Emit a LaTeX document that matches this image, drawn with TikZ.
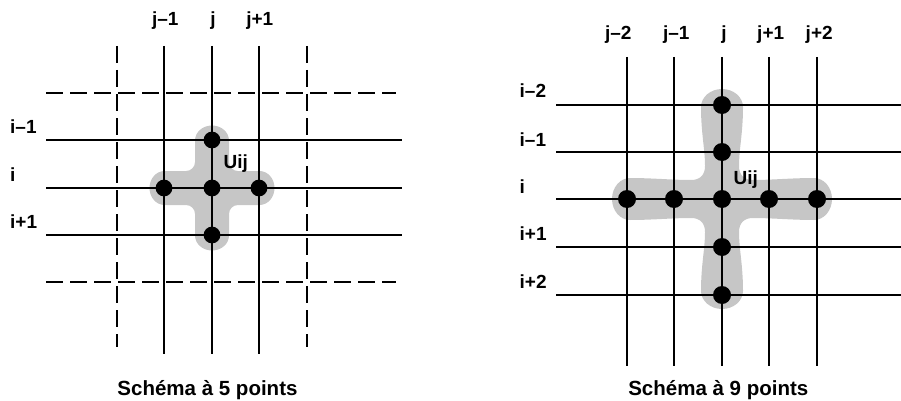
\documentclass[tikz,border=0pt]{standalone}
\usepackage{fontspec}
\setmainfont{Liberation Sans}
\definecolor{blob}{RGB}{198,198,198}
\begin{document}
\begin{tikzpicture}[x=1pt,y=-1pt,
  gridline/.style={line width=1.6pt,black},
  dashline/.style={line width=1.6pt,black,dash pattern=on 17pt off 7pt},
  dot/.style={circle,fill=black,inner sep=0pt,minimum size=16.8pt},
  bigdot/.style={circle,fill=black,inner sep=0pt,minimum size=18pt},
  lbl/.style={inner sep=0pt,anchor=base,font=\fontsize{19}{22}\selectfont\bfseries},
  rowlbl/.style={inner sep=0pt,anchor=base west,font=\fontsize{19}{22}\selectfont\bfseries},
  caption/.style={inner sep=0pt,anchor=base,font=\fontsize{20.5}{24}\selectfont\bfseries}]
\useasboundingbox (0,0) rectangle (901,401);

% ---------- left: 5-point scheme ----------
\begin{scope}[shift={(212,188)}]
\fill[blob] (-17,-47.5) .. controls (-17,-55.8) and (-9.4,-62.5) .. (0,-62.5)
  .. controls (9.4,-62.5) and (17,-55.8) .. (17,-47.5) -- (17,-26)
  .. controls (17,-21) and (21,-17) .. (26,-17) -- (47.5,-17)
  .. controls (55.8,-17) and (62.5,-9.4) .. (62.5,0)
  .. controls (62.5,9.4) and (55.8,17) .. (47.5,17) -- (26,17)
  .. controls (21,17) and (17,21) .. (17,26) -- (17,47.5)
  .. controls (17,55.8) and (9.4,62.5) .. (0,62.5)
  .. controls (-9.4,62.5) and (-17,55.8) .. (-17,47.5) -- (-17,26)
  .. controls (-17,21) and (-21,17) .. (-26,17) -- (-47.5,17)
  .. controls (-55.8,17) and (-62.5,9.4) .. (-62.5,0)
  .. controls (-62.5,-9.4) and (-55.8,-17) .. (-47.5,-17) -- (-26,-17)
  .. controls (-21,-17) and (-17,-21) .. (-17,-26) -- cycle;
\end{scope}

\foreach \x in {164,212,259} \draw[gridline] (\x,46) -- (\x,354);
\foreach \x in {117,307} \draw[dashline] (\x,46) -- (\x,347);
\foreach \y in {140,188,235} \draw[gridline] (46,\y) -- (402,\y);
\foreach \y in {93,282} \draw[dashline] (46,\y) -- (396,\y);

\node[dot] (L-n) at (212,140) {};
\node[dot] (L-w) at (164,188) {};
\node[dot] (L-c) at (212,188) {};
\node[dot] (L-e) at (259,188) {};
\node[dot] (L-s) at (212,235) {};

\node[lbl] (L-jm1) at (165.3,25.7) {j–1};
\node[lbl] (L-j) at (213,25.7) {j};
\node[lbl] (L-jp1) at (259.8,25.7) {j+1};
\node[rowlbl] (L-im1) at (10,133.3) {i–1};
\node[rowlbl] (L-i) at (10,181.3) {i};
\node[rowlbl] (L-ip1) at (10,228.3) {i+1};
\node[rowlbl] (L-u) at (223.5,168.3) {Uij};
\node[caption] (L-cap) at (207.5,395) {Schéma à 5 points};

% ---------- right: 9-point scheme ----------
\begin{scope}[shift={(722,199)}]
\fill[blob] (21,-92) .. controls (21,-66) and (17,-50) .. (17,-33)
  .. controls (17,-24) and (22,-19) .. (31,-19)
  .. controls (50,-19) and (70,-21) .. (92,-21)
  .. controls (101.9,-21) and (110,-11.6) .. (110,0)
  .. controls (110,11.6) and (101.9,21) .. (92,21)
  .. controls (70,21) and (50,19) .. (31,19)
  .. controls (22,19) and (17,24) .. (17,33)
  .. controls (17,50) and (21,66) .. (21,92)
  .. controls (21,101.9) and (11.6,110) .. (0,110)
  .. controls (-11.6,110) and (-21,101.9) .. (-21,92)
  .. controls (-21,66) and (-17,50) .. (-17,33)
  .. controls (-17,24) and (-22,19) .. (-31,19)
  .. controls (-50,19) and (-70,21) .. (-92,21)
  .. controls (-101.9,21) and (-110,11.6) .. (-110,0)
  .. controls (-110,-11.6) and (-101.9,-21) .. (-92,-21)
  .. controls (-70,-21) and (-50,-19) .. (-31,-19)
  .. controls (-22,-19) and (-17,-24) .. (-17,-33)
  .. controls (-17,-50) and (-21,-66) .. (-21,-92)
  .. controls (-21,-101.9) and (-11.6,-110) .. (0,-110)
  .. controls (11.6,-110) and (21,-101.9) .. (21,-92) -- cycle;
\end{scope}

\foreach \x in {627,674,722,769,817} \draw[gridline] (\x,57) -- (\x,366);
\foreach \y in {105,152,199,247,295} \draw[gridline] (556,\y) -- (901,\y);

\node[bigdot] (R-n2) at (722,105) {};
\node[bigdot] (R-n1) at (722,152) {};
\node[bigdot] (R-w2) at (627,199) {};
\node[bigdot] (R-w1) at (674,199) {};
\node[bigdot] (R-c) at (722,199) {};
\node[bigdot] (R-e1) at (769,199) {};
\node[bigdot] (R-e2) at (817,199) {};
\node[bigdot] (R-s1) at (722,247) {};
\node[bigdot] (R-s2) at (722,295) {};

\node[lbl] (R-jm2) at (618.2,39.3) {j–2};
\node[lbl] (R-jm1) at (676.3,39.3) {j–1};
\node[lbl] (R-j) at (724,39.3) {j};
\node[lbl] (R-jp1) at (770.7,39.3) {j+1};
\node[lbl] (R-jp2) at (819.2,39.3) {j+2};
\node[rowlbl] (R-im2) at (519.5,97.7) {i–2};
\node[rowlbl] (R-im1) at (519.5,146) {i–1};
\node[rowlbl] (R-i) at (519.5,193.3) {i};
\node[rowlbl] (R-ip1) at (519.5,240.7) {i+1};
\node[rowlbl] (R-ip2) at (519.5,288.3) {i+2};
\node[rowlbl] (R-u) at (733.5,184) {Uij};
\node[caption] (R-cap) at (718.3,395) {Schéma à 9 points};
\end{tikzpicture}
\end{document}
